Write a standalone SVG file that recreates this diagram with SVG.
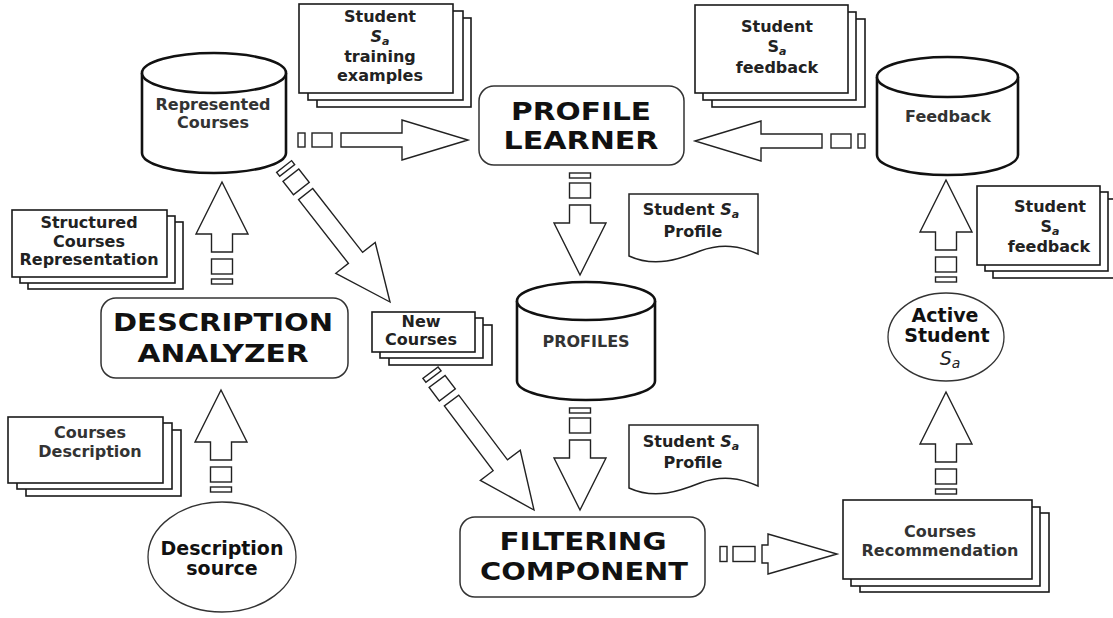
<svg xmlns="http://www.w3.org/2000/svg" xmlns:xlink="http://www.w3.org/1999/xlink" width="1113" height="618" viewBox="0 0 1113 618">
  <style>
    .box { fill:#fff; stroke:#1a1a1a; stroke-width:1.6; }
    .cyl { fill:#fff; stroke:#111; stroke-width:2.6; }
    .proc { fill:#fff; stroke:#333; stroke-width:1.5; }
    .ell { fill:#fff; stroke:#333; stroke-width:1.3; }
    .doc { fill:#fff; stroke:#222; stroke-width:1.5; }
    .arr { fill:#fff; stroke:#222; stroke-width:1.4; stroke-linejoin:miter; }
    .lbl { font-family:"DejaVu Sans", "Liberation Sans", sans-serif; font-weight:bold; font-size:16px; fill:#222; text-anchor:middle; }
    .soft { fill:#333; }
    .title { font-size:24px; fill:#111; }
    .big { font-size:19px; fill:#111; }
    .it { font-style:italic; }
  </style>
  <defs>
    <!-- block arrows, tip at origin, tail running down the +y axis -->
    <g id="arrowV">
      <path class="arr" d="M0,0 L26,52 L10.5,52 L10.5,70 L-10.5,70 L-10.5,52 L-26,52 Z"/>
      <rect class="arr" x="-10.5" y="77" width="21" height="15"/>
      <rect class="arr" x="-10.5" y="97" width="21" height="5"/>
    </g>
    <g id="arrowH">
      <path class="arr" d="M0,0 L20,66 L7,66 L7,127 L-7,127 L-7,66 L-20,66 Z"/>
      <rect class="arr" x="-7" y="136" width="14" height="20"/>
      <rect class="arr" x="-7" y="163" width="14" height="7"/>
    </g>
    <g id="arrowS">
      <path class="arr" d="M0,0 L20,69 L9,69 L9,75 L-9,75 L-9,69 L-20,69 Z"/>
      <rect class="arr" x="-7.5" y="82" width="15" height="22"/>
      <rect class="arr" x="-7.5" y="110" width="15" height="7"/>
    </g>
    <g id="arrowD">
      <path class="arr" d="M0,0 L25,56 L9,56 L9,137 L-9,137 L-9,56 L-25,56 Z"/>
      <rect class="arr" x="-10" y="144" width="20" height="17"/>
      <rect class="arr" x="-9.5" y="167" width="19" height="5"/>
    </g>
  </defs>

  <rect width="1113" height="618" fill="#fff"/>

  <!-- connectors -->
  <g id="connectors">
    <use xlink:href="#arrowH" transform="translate(468,140) rotate(90)"/>
    <use xlink:href="#arrowH" transform="translate(695,141) rotate(-90)"/>
    <use xlink:href="#arrowV" transform="translate(580,275) rotate(180)"/>
    <use xlink:href="#arrowV" transform="translate(580,510) rotate(180)"/>
    <use xlink:href="#arrowV" transform="translate(222,182)"/>
    <use xlink:href="#arrowV" transform="translate(221,390)"/>
    <use xlink:href="#arrowV" transform="translate(946,392)"/>
    <use xlink:href="#arrowV" transform="translate(946,180)"/>
    <use xlink:href="#arrowS" transform="translate(837,554) rotate(90)"/>
    <use xlink:href="#arrowD" transform="translate(390,302) rotate(142)"/>
    <use xlink:href="#arrowD" transform="translate(534,510) rotate(143)"/>
  </g>

  <!-- data stores -->
  <g id="represented-courses">
    <path class="cyl" d="M142,73 V153 A72,20 0 0 0 286,153 V73"/>
    <ellipse class="cyl" cx="214" cy="73" rx="72" ry="20"/>
    <text class="lbl soft" x="213" y="110">Represented</text>
    <text class="lbl soft" x="213" y="128">Courses</text>
  </g>
  <g id="feedback-store">
    <path class="cyl" d="M877,77 V155 A70.5,20 0 0 0 1018,155 V77"/>
    <ellipse class="cyl" cx="947.5" cy="77" rx="70.5" ry="20"/>
    <text class="lbl soft" x="948" y="122">Feedback</text>
  </g>
  <g id="profiles-store">
    <path class="cyl" d="M517,301 V381 A69,19 0 0 0 655,381 V301"/>
    <ellipse class="cyl" cx="586" cy="301" rx="69" ry="19"/>
    <text class="lbl soft" x="586" y="347">PROFILES</text>
  </g>

  <!-- processes -->
  <g id="profile-learner">
    <rect class="proc" x="479" y="86" width="205" height="79" rx="15"/>
    <text class="lbl title" x="581" y="120" textLength="140" lengthAdjust="spacingAndGlyphs">PROFILE</text>
    <text class="lbl title" x="581" y="149" textLength="155" lengthAdjust="spacingAndGlyphs">LEARNER</text>
  </g>
  <g id="description-analyzer">
    <rect class="proc" x="101" y="298" width="247" height="80" rx="15"/>
    <text class="lbl title" x="223" y="331" textLength="220" lengthAdjust="spacingAndGlyphs">DESCRIPTION</text>
    <text class="lbl title" x="223" y="362" textLength="171" lengthAdjust="spacingAndGlyphs">ANALYZER</text>
  </g>
  <g id="filtering-component">
    <rect class="proc" x="460" y="517" width="245" height="80" rx="15"/>
    <text class="lbl title" x="583" y="550" textLength="167" lengthAdjust="spacingAndGlyphs">FILTERING</text>
    <text class="lbl title" x="584" y="580" textLength="208" lengthAdjust="spacingAndGlyphs">COMPONENT</text>
  </g>

  <!-- actors -->
  <g id="description-source">
    <ellipse class="ell" cx="222" cy="557" rx="74" ry="55"/>
    <text class="lbl big" x="222" y="555">Description</text>
    <text class="lbl big" x="222" y="575">source</text>
  </g>
  <g id="active-student">
    <ellipse class="ell" cx="946" cy="337" rx="58" ry="44"/>
    <text class="lbl big" x="945" y="322">Active</text>
    <text class="lbl big" x="947" y="342">Student</text>
    <text class="lbl" x="950" y="365" style="font-weight:normal;font-style:italic;font-size:19px">S<tspan font-size="14" dy="3">a</tspan></text>
  </g>

  <!-- document stacks -->
  <g id="training-examples">
    <rect class="box" x="317" y="18" width="154" height="89"/>
    <rect class="box" x="308" y="11" width="155" height="89"/>
    <rect class="box" x="299" y="4" width="154" height="89"/>
    <text class="lbl" x="380" y="22">Student</text>
    <text class="lbl it" x="380" y="42">S<tspan font-size="11" dy="3">a</tspan></text>
    <text class="lbl" x="380" y="62">training</text>
    <text class="lbl" x="380" y="81">examples</text>
  </g>
  <g id="feedback-top">
    <rect class="box" x="712" y="19" width="153" height="88"/>
    <rect class="box" x="703" y="12" width="153" height="88"/>
    <rect class="box" x="695" y="5" width="153" height="88"/>
    <text class="lbl" x="777" y="32">Student</text>
    <text class="lbl" x="777" y="52">S<tspan font-size="11" dy="3" class="it">a</tspan></text>
    <text class="lbl" x="777" y="73">feedback</text>
  </g>
  <g id="feedback-right">
    <rect class="box" x="993" y="199" width="123" height="79"/>
    <rect class="box" x="985" y="192" width="123" height="79"/>
    <rect class="box" x="977" y="186" width="123" height="79"/>
    <text class="lbl" x="1050" y="212">Student</text>
    <text class="lbl" x="1050" y="232">S<tspan font-size="11" dy="3" class="it">a</tspan></text>
    <text class="lbl" x="1049" y="252">feedback</text>
  </g>
  <g id="structured-representation">
    <rect class="box" x="28" y="222" width="155" height="67"/>
    <rect class="box" x="20" y="216" width="155" height="67"/>
    <rect class="box" x="12" y="210" width="155" height="67"/>
    <text class="lbl" x="89" y="228">Structured</text>
    <text class="lbl" x="89" y="247">Courses</text>
    <text class="lbl" x="89" y="265">Representation</text>
  </g>
  <g id="new-courses">
    <rect class="box" x="389" y="325" width="103" height="40"/>
    <rect class="box" x="380" y="318" width="103" height="40"/>
    <rect class="box" x="372" y="312" width="103" height="40"/>
    <text class="lbl" x="421" y="327">New</text>
    <text class="lbl" x="421" y="345">Courses</text>
  </g>
  <g id="courses-description">
    <rect class="box" x="26" y="430" width="155" height="66"/>
    <rect class="box" x="17" y="423" width="155" height="66"/>
    <rect class="box" x="8" y="417" width="155" height="66"/>
    <text class="lbl soft" x="90" y="438">Courses</text>
    <text class="lbl soft" x="90" y="457">Description</text>
  </g>
  <g id="courses-recommendation">
    <rect class="box" x="860" y="513" width="189" height="79"/>
    <rect class="box" x="851" y="507" width="189" height="79"/>
    <rect class="box" x="843" y="500" width="189" height="79"/>
    <text class="lbl soft" x="940" y="537">Courses</text>
    <text class="lbl soft" x="940" y="556">Recommendation</text>
  </g>

  <!-- single documents -->
  <g id="profile-doc-upper">
    <path class="doc" d="M629,194 H758 V254 C740,246 722,243 700,251 C680,259 655,268 629,256 Z"/>
    <text class="lbl" x="691" y="215">Student <tspan class="it">S</tspan><tspan class="it" font-size="11" dy="3">a</tspan></text>
    <text class="lbl" x="693" y="237">Profile</text>
  </g>
  <g id="profile-doc-lower">
    <path class="doc" d="M629,425 H758 V486 C740,478 722,475 700,483 C680,491 655,500 629,488 Z"/>
    <text class="lbl" x="691" y="447">Student <tspan class="it">S</tspan><tspan class="it" font-size="11" dy="3">a</tspan></text>
    <text class="lbl" x="693" y="468">Profile</text>
  </g>
</svg>
